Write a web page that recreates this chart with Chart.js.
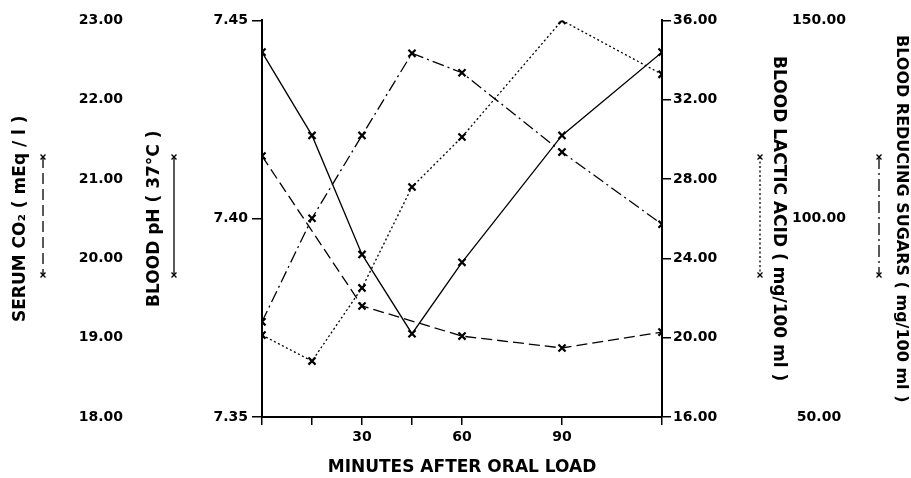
<!DOCTYPE html>
<html>
<head>
<meta charset="utf-8">
<script src="https://cdn.jsdelivr.net/npm/chart.js@4.4.1/dist/chart.umd.min.js"></script>
<style>
    html, body { margin: 0; padding: 0; background: #fff; }
    #wrap { width: 911px; height: 478px; position: relative; }
</style>
</head>
<body>
<div id="wrap"><canvas id="chart"></canvas></div>
<script>
// values
const minutes = [0, 15, 30, 45, 60, 90, 120];
const phValues = [7.442, 7.421, 7.391, 7.371, 7.389, 7.421, 7.442];
const co2Minutes = [0, 30, 60, 90, 120];
const co2Values = [21.29, 19.40, 19.02, 18.87, 19.07];
const lacticValues = [20.13, 18.82, 22.51, 27.6, 30.12, 36.0, 33.28];
const sugarValues = [74.0, 100.1, 121.0, 141.7, 136.8, 116.8, 98.6];

const xTicks = [0, 15, 30, 45, 60, 90, 120];
const xTickLabels = ['', '', '30', '', '60', '90', ''];
const phTicks = [7.35, 7.40, 7.45];
const co2Ticks = [18, 19, 20, 21, 22, 23];
const lacticTicks = [16, 20, 24, 28, 32, 36];
const sugarTicks = [50, 100, 150];

const FONT = "'DejaVu Sans', sans-serif";
const tickFont = { family: FONT, size: 14, weight: 'bold' };
const titleFont = { family: FONT, size: 17, weight: 'bold' };

function toPoints(xs, ys) {
    return xs.map((x, i) => ({ x: x, y: ys[i] }));
}

function fixedTicks(values) {
    return scale => { scale.ticks = values.map(v => ({ value: v })); };
}

function lineSet(label, data, axis, dash) {
    return {
        label: label,
        data: data,
        yAxisID: axis,
        borderColor: '#000',
        borderWidth: 1.3,
        borderDash: dash,
        pointStyle: 'crossRot',
        pointRadius: 5,
        pointBorderWidth: 2.2,
        pointBorderColor: '#000',
        pointBackgroundColor: '#000',
        fill: false,
        tension: 0
    };
}

// vertical legend samples next to the axis titles
const legendSamples = [
    { dataset: 1, x: 43 },
    { dataset: 0, x: 174 },
    { dataset: 2, x: 760 },
    { dataset: 3, x: 879 }
];

const sampleLegend = {
    id: 'sampleLegend',
    afterDraw(chart) {
        const ctx = chart.ctx;
        legendSamples.forEach(s => {
            const ds = chart.data.datasets[s.dataset];
            ctx.save();
            ctx.strokeStyle = '#000';
            ctx.lineWidth = 1.3;
            ctx.setLineDash(ds.borderDash);
            ctx.beginPath();
            ctx.moveTo(s.x, 157);
            ctx.lineTo(s.x, 275);
            ctx.stroke();
            ctx.setLineDash([]);
            [157, 275].forEach(y => {
                Chart.helpers.drawPoint(ctx, { pointStyle: 'crossRot', radius: 3.5, rotation: 0, borderWidth: 1.8 }, s.x, y);
            });
            ctx.restore();
        });
    }
};

new Chart(document.getElementById('chart'), {
    type: 'line',
    data: {
        datasets: [
            lineSet('Blood pH (37°C)', toPoints(minutes, phValues), 'yPH', []),
            lineSet('Serum CO₂ (mEq/l)', toPoints(co2Minutes, co2Values), 'yCO2', [11, 5]),
            lineSet('Blood lactic acid (mg/100 ml)', toPoints(minutes, lacticValues), 'yLactic', [2, 2.5]),
            lineSet('Blood reducing sugars (mg/100 ml)', toPoints(minutes, sugarValues), 'ySugar', [12, 4, 2, 4])
        ]
    },
    options: {
        responsive: true,
        maintainAspectRatio: false,
        animation: false,
        layout: { padding: { top: 20, left: 0, right: 0, bottom: 0 } },
        plugins: {
            legend: { display: false },
            tooltip: { enabled: false }
        },
        scales: {
            x: {
                type: 'linear',
                position: 'bottom',
                min: 0,
                max: 120,
                afterBuildTicks: fixedTicks(xTicks),
                afterFit: s => { s.height = 61; },
                border: { display: true, color: '#000', width: 2 },
                grid: { drawOnChartArea: false, drawTicks: true, tickLength: 8, color: '#000', lineWidth: 1.5 },
                ticks: {
                    color: '#000', font: tickFont, padding: 4, maxRotation: 0, autoSkip: false,
                    callback: v => xTickLabels[xTicks.indexOf(v)]
                },
                title: { display: true, text: 'MINUTES AFTER ORAL LOAD', color: '#000', font: titleFont, padding: { top: 0, bottom: 0 } }
            },
            yPH: {
                type: 'linear',
                position: 'left',
                weight: 0,
                min: 7.35,
                max: 7.45,
                afterBuildTicks: fixedTicks(phTicks),
                afterFit: s => { s.width = 127; },
                border: { display: true, color: '#000', width: 2 },
                grid: { drawOnChartArea: false, drawTicks: true, tickLength: 10, color: '#000', lineWidth: 1.5 },
                ticks: { color: '#000', font: tickFont, padding: 4, callback: v => v.toFixed(2) },
                title: { display: true, text: 'BLOOD pH ( 37°C )', color: '#000', font: titleFont, padding: { top: 9, bottom: 0 } }
            },
            yCO2: {
                type: 'linear',
                position: 'left',
                weight: 1,
                min: 18,
                max: 23,
                afterBuildTicks: fixedTicks(co2Ticks),
                afterFit: s => { s.width = 135; },
                border: { display: false },
                grid: { display: false, drawTicks: false },
                ticks: { color: '#000', font: tickFont, padding: 12, callback: v => v.toFixed(2) },
                title: { display: true, text: 'SERUM CO₂ ( mEq / l )', color: '#000', font: titleFont, padding: { top: 10, bottom: 0 } }
            },
            yLactic: {
                type: 'linear',
                position: 'right',
                weight: 0,
                min: 16,
                max: 36,
                afterBuildTicks: fixedTicks(lacticTicks),
                afterFit: s => { s.width = 127; },
                border: { display: true, color: '#000', width: 2 },
                grid: { drawOnChartArea: false, drawTicks: true, tickLength: 9, color: '#000', lineWidth: 1.5 },
                ticks: { color: '#000', font: tickFont, padding: 2, callback: v => v.toFixed(2) },
                title: { display: true, text: 'BLOOD LACTIC ACID ( mg/100 ml )', color: '#000', font: titleFont, padding: { top: 0, bottom: 0 } }
            },
            ySugar: {
                type: 'linear',
                position: 'right',
                weight: 1,
                min: 50,
                max: 150,
                afterBuildTicks: fixedTicks(sugarTicks),
                afterFit: s => { s.width = 122; },
                border: { display: false },
                grid: { display: false, drawTicks: false },
                ticks: { color: '#000', font: tickFont, padding: 3, crossAlign: 'center', callback: v => v.toFixed(2) },
                title: { display: true, text: 'BLOOD REDUCING SUGARS ( mg/100 ml )', color: '#000', font: { family: FONT, size: 16, weight: 'bold' }, padding: { top: 0, bottom: 0 } }
            }
        }
    },
    plugins: [sampleLegend]
});
</script>
</body>
</html>
